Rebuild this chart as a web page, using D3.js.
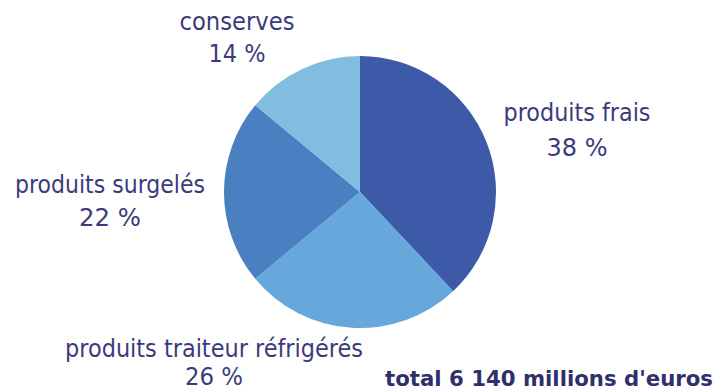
<!DOCTYPE html>
<html><head><meta charset="utf-8">
<script src="https://cdn.jsdelivr.net/npm/d3@7"></script>
<style>body{margin:0;background:#fff}svg{display:block}</style>
</head><body>
<script>
const categories = ["produits frais", "produits traiteur réfrigérés", "produits surgelés", "conserves"];
const values = [38, 26, 22, 14];
const colors = ["#3d5aa8", "#66a7dc", "#4a7fc1", "#82bde0"];
const totalLabel = "total 6 140 millions d'euros";

const W = 721, H = 391;
const svg = d3.select("body").append("svg").attr("width", W).attr("height", H);
const cx = 360, cy = 192, r = 136;

const pie = d3.pie().sort(null).value(d => d)(values);
const arc = d3.arc().innerRadius(0).outerRadius(r);
const g = svg.append("g").attr("transform", `translate(${cx},${cy})`);
g.selectAll("path").data(pie).join("path")
  .attr("d", arc).attr("fill", (d, i) => colors[i]);

// label anchor positions (name centre x, name baseline y, pct baseline y, widths)
const labelPos = [
  {x: 577, y: 121, py: 156, w: 147, pw: 61, ps: 22},
  {x: 214, y: 357, py: 385, w: 298, pw: 58, ps: 20},
  {x: 110, y: 193, py: 226, w: 190, pw: 62, ps: 22},
  {x: 237, y: 30, py: 62, w: 115, pw: 57, ps: 22}
];
const txtColor = "#3b3b7c";
const sy = 1.35;
const lab = svg.append("g").attr("font-family", "DejaVu Sans, sans-serif")
  .attr("fill", txtColor).attr("text-anchor", "middle");
categories.forEach((c, i) => {
  const p = labelPos[i];
  lab.append("text").attr("transform", `translate(${p.x},${p.y}) scale(1,${sy})`)
    .attr("font-size", 18)
    .attr("textLength", p.w).attr("lengthAdjust", "spacingAndGlyphs").text(c);
  lab.append("text").attr("transform", `translate(${p.x},${p.py}) scale(1,${p.ps === 22 ? 1.12 : 1.2})`)
    .attr("font-size", p.ps)
    .attr("textLength", p.pw).attr("lengthAdjust", "spacingAndGlyphs")
    .text(values[i] + " %");
});

svg.append("text").attr("transform", `translate(713,386) scale(1,1.2)`)
  .attr("text-anchor", "end")
  .attr("font-family", "DejaVu Sans, sans-serif").attr("font-weight", "bold")
  .attr("font-size", 18).attr("fill", "#2f2f6c")
  .attr("textLength", 328).attr("lengthAdjust", "spacingAndGlyphs")
  .text(totalLabel);
</script>
</body></html>
